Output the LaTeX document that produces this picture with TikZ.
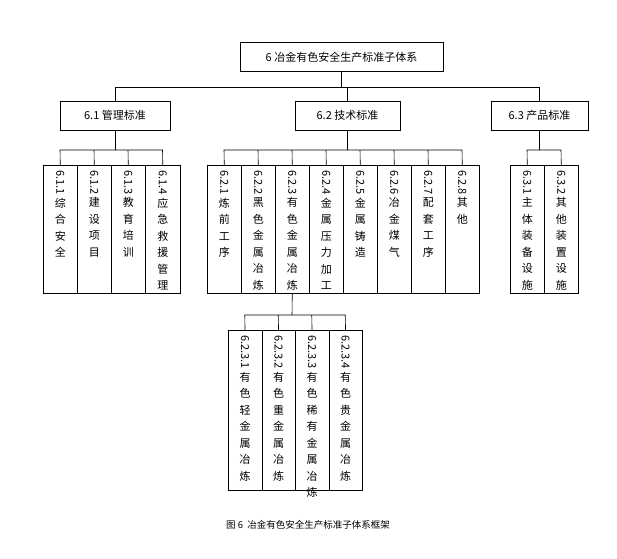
\documentclass[tikz,border=0pt]{standalone}
\usepackage{fontspec}
\usepackage{graphicx}
\setmainfont{Noto Sans CJK SC}
\begin{document}
\begin{tikzpicture}[x=1pt,y=-1pt,line width=0.6pt,
  hbox/.style={draw,minimum height=29pt,inner sep=0pt,font=\fontsize{11}{13}\selectfont},
  vbox/.style={draw,anchor=north west,inner sep=0pt},
  vtext/.style={anchor=north,align=center,inner sep=0pt,font=\fontsize{11}{16.5}\selectfont}]
\useasboundingbox (0,0) rectangle (617,558);
% top
\node[hbox,minimum width=203pt] (top) at (341.5,57) {6 冶金有色安全生产标准子体系};
\node[hbox,minimum width=110pt] (a) at (115,115.5) {6.1 管理标准};
\node[hbox,minimum width=105pt] (b) at (347.5,115.5) {6.2 技术标准};
\node[hbox,minimum width=97pt] (c) at (539.5,115.5) {6.3 产品标准};
\draw (top.south) -- (341.5,87);
\draw (a.north) -- (115,87) -- (539.5,87) -- (c.north);
\draw (b.north) -- (347.5,87);
% macro: column box
\newcommand\vcol[7]{% name, xleft, ytop, width, height, number, chars
  \node[vbox,minimum width=#4pt,minimum height=#5pt] (#1) at (#2,#3) {};
  \node[vtext] (#1t) at ([yshift=-5pt]#1.north) {\rotatebox{-90}{#6}\\[2pt]#7};
}
% 6.1 children
\vcol{a1}{43}{165}{34}{128}{6.1.1}{综\\合\\安\\全}
\vcol{a2}{77}{165}{34}{128}{6.1.2}{建\\设\\项\\目}
\vcol{a3}{111}{165}{34}{128}{6.1.3}{教\\育\\培\\训}
\vcol{a4}{145}{165}{35}{128}{6.1.4}{应\\急\\救\\援\\管\\理}
\draw (a.south) -- (115,150);
\draw (a1.north) -- (60,150) -- (162.5,150) -- (a4.north);
\draw (a2.north) -- (94,150); \draw (a3.north) -- (128,150);
% 6.2 children
\vcol{b1}{207}{165}{34}{128}{6.2.1}{炼\\前\\工\\序}
\vcol{b2}{241}{165}{34}{128}{6.2.2}{黑\\色\\金\\属\\冶\\炼}
\vcol{b3}{275}{165}{34}{128}{6.2.3}{有\\色\\金\\属\\冶\\炼}
\vcol{b4}{309}{165}{34}{128}{6.2.4}{金\\属\\压\\力\\加\\工}
\vcol{b5}{343}{165}{34}{128}{6.2.5}{金\\属\\铸\\造}
\vcol{b6}{377}{165}{34}{128}{6.2.6}{冶\\金\\煤\\气}
\vcol{b7}{411}{165}{34}{128}{6.2.7}{配\\套\\工\\序}
\vcol{b8}{445}{165}{34}{128}{6.2.8}{其\\他}
\draw (b.south) -- (347.5,150);
\draw (b1.north) -- (224,150) -- (462,150) -- (b8.north);
\foreach \n/\x in {b2/258,b3/292,b4/326,b5/360,b6/394,b7/428} \draw (\n.north) -- (\x,150);
% 6.3 children
\vcol{c1}{510}{165}{34}{128}{6.3.1}{主\\体\\装\\备\\设\\施}
\vcol{c2}{544}{165}{34}{128}{6.3.2}{其\\他\\装\\置\\设\\施}
\draw (c.south) -- (539.5,150);
\draw (c1.north) -- (527,150) -- (561,150) -- (c2.north);
% 6.2.3 children
\vcol{d1}{228}{330}{33.5}{160}{6.2.3.1}{有\\色\\轻\\金\\属\\冶\\炼}
\vcol{d2}{261.5}{330}{33.5}{160}{6.2.3.2}{有\\色\\重\\金\\属\\冶\\炼}
\vcol{d3}{295}{330}{33.5}{160}{6.2.3.3}{有\\色\\稀\\有\\金\\属\\冶\\炼}
\vcol{d4}{328.5}{330}{33.5}{160}{6.2.3.4}{有\\色\\贵\\金\\属\\冶\\炼}
\draw (b3.south) -- (292,315);
\draw (d1.north) -- (244.75,315) -- (345.25,315) -- (d4.north);
\draw (d2.north) -- (278.25,315); \draw (d3.north) -- (311.75,315);
% caption
\node[font=\fontsize{9.5}{11}\selectfont] (cap) at (308,525) {图 6\ \ 冶金有色安全生产标准子体系框架};
\end{tikzpicture}
\end{document}
